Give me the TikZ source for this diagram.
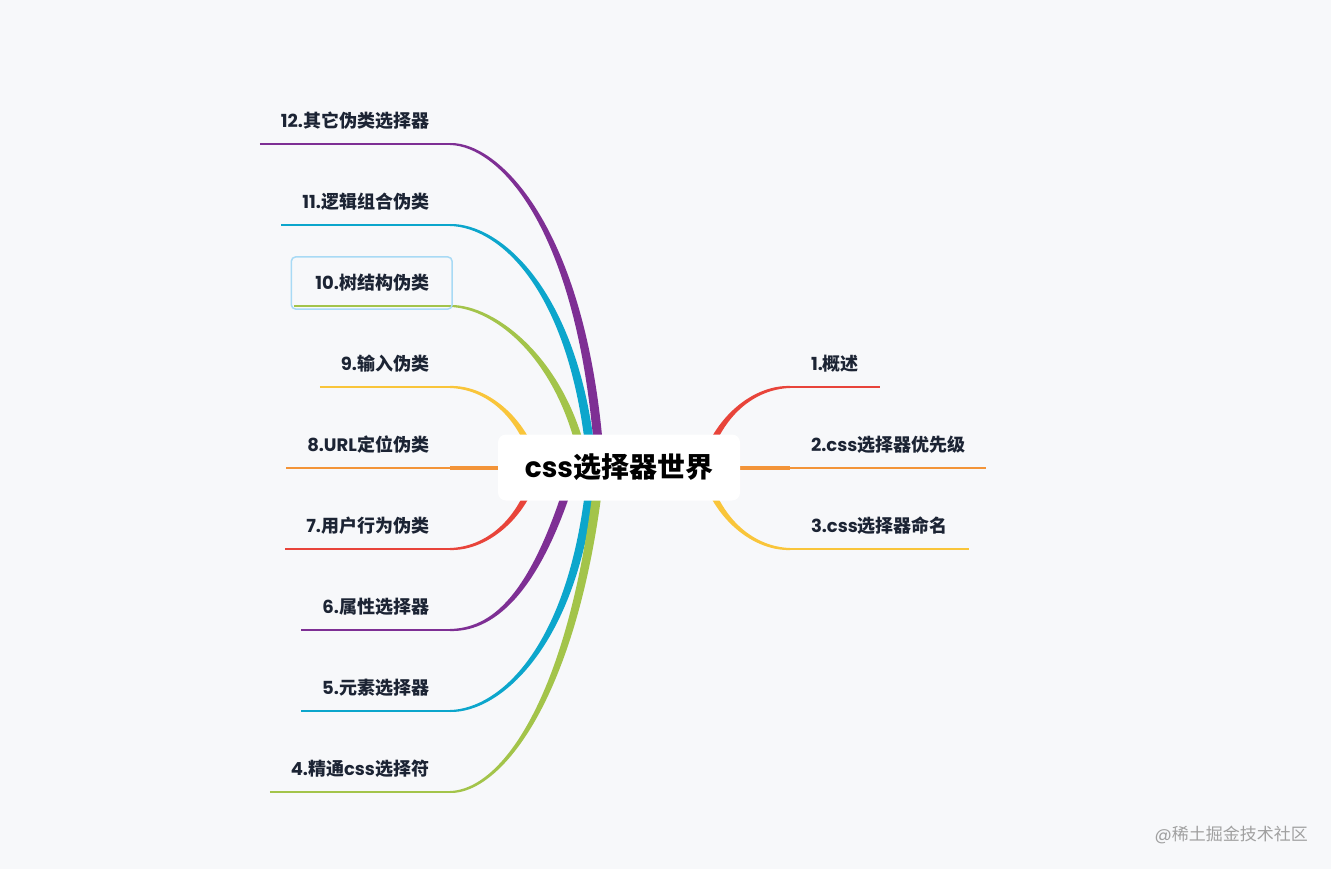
\documentclass[tikz,border=0pt]{standalone}
\usepackage{fontspec}
\setmainfont{Poppins}
\newfontfamily\cjk{Noto Sans CJK SC}
\usetikzlibrary{calc}
\pgfdeclarelayer{bg}
\pgfsetlayers{bg,main}
\definecolor{bgc}{HTML}{F7F8FA}
\definecolor{ink}{HTML}{1C2434}
\definecolor{cpurple}{HTML}{7E2F94}
\definecolor{ccyan}{HTML}{0CA6CC}
\definecolor{cgreen}{HTML}{A3C44A}
\definecolor{cyellow}{HTML}{F9C53A}
\definecolor{corange}{HTML}{F39438}
\definecolor{cred}{HTML}{E8443A}
\definecolor{hlc}{HTML}{A8DAF5}
\definecolor{wmc}{HTML}{A0A0A0}
% tapered branch: #1 colour, #2 thin end, #3 control 1, #4 control 2, #5 root end, #6 signed half width at root
\newcommand\taper[6]{%
  \fill[#1] ($(#2)+(0,-1)$) .. controls ($(#3)+(0,-2.2)$) and ($(#4)+(#6,0)$) .. ($(#5)+(#6,0)$)
    -- ($(#5)+({-1*(#6)},0)$) .. controls ($(#4)+({-1*(#6)},0)$) and ($(#3)+(0,2.2)$) .. ($(#2)+(0,1)$) -- cycle;}
\begin{document}
\begin{tikzpicture}[x=1pt,y=-1pt,
  topic/.style={font=\fontsize{18}{20}\selectfont\bfseries, text=ink, inner xsep=21pt,
    inner ysep=16.8pt, text height=13.4pt, text depth=0pt, outer sep=0pt},
  ltopic/.style={topic, anchor=south east},
  rtopic/.style={topic, anchor=south west},
  uline/.style={line width=2pt},
  rootbox/.style={fill=white, rounded corners=8pt, minimum width=242pt, minimum height=66pt,
    font=\fontsize{28}{32}\selectfont\bfseries, text=black, inner sep=0pt},
  hlbox/.style={draw=hlc, line width=1.5pt, rounded corners=4pt}]
\begin{pgfonlayer}{bg}
  \fill[bgc] (0,0) rectangle (1331,869);
\end{pgfonlayer}
\useasboundingbox (0,0) rectangle (1331,869);

% root
\node[rootbox] (root) at (619,467.5) {css{\cjk 选择器世界}};

% left topics
\node[ltopic] (t12) at (450,144) {12.{\cjk 其它伪类选择器}};
\node[ltopic] (t11) at (450,225) {11.{\cjk 逻辑组合伪类}};
\node[ltopic] (t10) at (450,306) {10.{\cjk 树结构伪类}};
\node[ltopic] (t9)  at (450,387) {9.{\cjk 输入伪类}};
\node[ltopic] (t8)  at (450,468) {8.URL{\cjk 定位伪类}};
\node[ltopic] (t7)  at (450,549) {7.{\cjk 用户行为伪类}};
\node[ltopic] (t6)  at (450,630) {6.{\cjk 属性选择器}};
\node[ltopic] (t5)  at (450,711) {5.{\cjk 元素选择器}};
\node[ltopic] (t4)  at (450,792) {4.{\cjk 精通}css{\cjk 选择符}};
% right topics
\node[rtopic] (t1) at (790,387) {1.{\cjk 概述}};
\node[rtopic] (t2) at (790,468) {2.css{\cjk 选择器优先级}};
\node[rtopic] (t3) at (790,549) {3.css{\cjk 选择器命名}};

% selection frame
\draw[hlbox] ($(t10.north west)+(-3,-2)$) rectangle ($(t10.south east)+(2,3)$);

% watermark
\node[font=\fontsize{17}{20}\selectfont, text=wmc, anchor=east, inner sep=0pt] (wm) at (1308,835) {@{\cjk 稀土掘金技术社区}};

% root ends of branches (under the root box)
\coordinate (r12) at (600,468);
\coordinate (r11) at (592,468);
\coordinate (r10) at (585,468);
\coordinate (r9)  at (537,468);
\coordinate (r8)  at (560,468);
\coordinate (r7)  at (537,468);
\coordinate (r6)  at (574,468);
\coordinate (r5)  at (592,468);
\coordinate (r4)  at (600,468);
\coordinate (r1)  at (703,468);
\coordinate (r2)  at (680,468);
\coordinate (r3)  at (703,468);

\begin{pgfonlayer}{bg}
  % underlines
  \draw[uline, cpurple] (t12.south west) -- (t12.south east);
  \draw[uline, ccyan]   (t11.south west) -- (t11.south east);
  \draw[uline, cgreen]  (t10.south west) -- (t10.south east);
  \draw[uline, cyellow] (t9.south west) -- (t9.south east);
  \draw[uline, corange] (t8.south west) -- (t8.south east);
  \draw[uline, cred]    (t7.south west) -- (t7.south east);
  \draw[uline, cpurple] (t6.south west) -- (t6.south east);
  \draw[uline, ccyan]   (t5.south west) -- (t5.south east);
  \draw[uline, cgreen]  (t4.south west) -- (t4.south east);
  \draw[uline, cred]    (t1.south west) -- (t1.south east);
  \draw[uline, corange] (t2.south west) -- (t2.south east);
  \draw[uline, cyellow] (t3.south west) -- (t3.south east);
  % branches
  \taper{cpurple}{t12.south east}{500,144}{585,230}{r12}{4.6}
  \taper{ccyan}{t11.south east}{500,225}{577,291}{r11}{4.6}
  \taper{cgreen}{t10.south east}{495,306}{565,360}{r10}{4.4}
  \taper{cyellow}{t9.south east}{485,387}{523,415}{r9}{3.8}
  \fill[corange] ($(t8.south east)+(0,-2)$) rectangle ($(r8)+(0,2)$);
  \taper{cred}{t7.south east}{485,549}{523,521}{r7}{-3.8}
  \taper{cpurple}{t6.south east}{490,630}{535,600}{r6}{-4.4}
  \taper{ccyan}{t5.south east}{500,711}{577,645}{r5}{-4.6}
  \taper{cgreen}{t4.south east}{500,792}{575,700}{r4}{-4.6}
  \taper{cred}{t1.south west}{755,387}{717,415}{r1}{-3.8}
  \fill[corange] ($(r2)+(0,-2)$) rectangle ($(t2.south west)+(0,2)$);
  \taper{cyellow}{t3.south west}{755,549}{717,521}{r3}{3.8}
\end{pgfonlayer}
\end{tikzpicture}
\end{document}
